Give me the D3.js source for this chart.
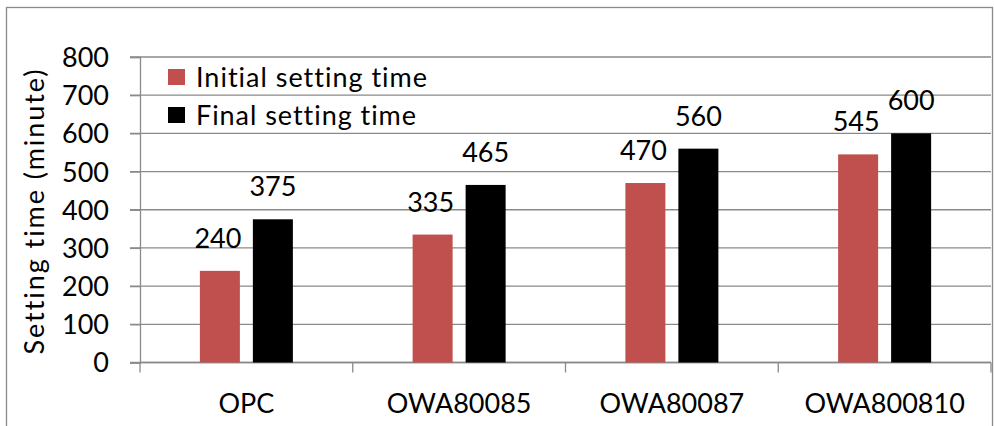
<!DOCTYPE html>
<html>
<head>
<meta charset="utf-8">
<script src="https://cdn.jsdelivr.net/npm/d3@7"></script>
<style>
  html, body { margin: 0; padding: 0; background: #fff; }
  svg { display: block; }
  text { font-family: Lato, "Open Sans", sans-serif; fill: #000; font-variant-ligatures: none; }
</style>
</head>
<body>
<svg id="chart" width="994" height="426"></svg>
<script>
// Setting times (minutes) for each mix
const categories = ["OPC", "OWA80085", "OWA80087", "OWA800810"];
const seriesNames = ["Initial setting time", "Final setting time"];
const initialSetting = [240, 335, 470, 545];
const finalSetting = [375, 465, 560, 600];
const yTicks = [0, 100, 200, 300, 400, 500, 600, 700, 800];
const seriesColors = ["#C0504D", "#000000"];

const svg = d3.select("#chart");
const W = 994, H = 426;
const plot = { left: 140, right: 991, top: 57, bottom: 362.5 };
const fontSize = 27;

// outer chart frame
svg.append("rect")
  .attr("x", 6.5).attr("y", 7.5)
  .attr("width", W - 8).attr("height", H)
  .attr("fill", "none").attr("stroke", "#8a8a8a").attr("stroke-width", 1.3);

const x = d3.scaleBand().domain(categories).range([plot.left, plot.right]).padding(0);
const y = d3.scaleLinear().domain([0, 800]).range([plot.bottom, plot.top]);
// two bars of ~40px with a ~13px gap, centred in each category
const xSeries = d3.scaleBand().domain(seriesNames).range([-46.5, 46.5]).paddingInner(13 / 53);

// horizontal gridlines
svg.append("g").selectAll("line").data(yTicks).join("line")
  .attr("x1", plot.left - 10).attr("x2", plot.right)
  .attr("y1", d => y(d)).attr("y2", d => y(d))
  .attr("stroke", "#8a8a8a").attr("stroke-width", 1.3);

// y axis
const yAxis = svg.append("g").attr("transform", `translate(${plot.left},0)`)
  .call(d3.axisLeft(y).tickValues(yTicks).tickSize(10).tickPadding(21).tickFormat(d3.format("d")));
yAxis.select(".domain").attr("stroke", "#8a8a8a").attr("stroke-width", 1.3);
yAxis.selectAll(".tick line").attr("stroke", "#8a8a8a").attr("stroke-width", 1.3);
yAxis.selectAll("text").attr("font-size", fontSize).attr("font-family", "Lato").attr("fill", "#000")
  .attr("dy", "0.35em");

// x axis with tick marks at category boundaries
const xAxis = svg.append("g").attr("transform", `translate(0,${plot.bottom})`);
xAxis.append("line").attr("x1", plot.left).attr("x2", plot.right)
  .attr("stroke", "#8a8a8a").attr("stroke-width", 1.3);
const bounds = categories.map(c => x(c)).concat([plot.right]);
xAxis.selectAll("line.tick").data(bounds).join("line").attr("class", "tick")
  .attr("x1", d => d).attr("x2", d => d).attr("y1", 0).attr("y2", 10)
  .attr("stroke", "#8a8a8a").attr("stroke-width", 1.3);
xAxis.selectAll("text").data(categories).join("text")
  .attr("x", d => x(d) + x.bandwidth() / 2).attr("y", 50.5)
  .attr("text-anchor", "middle").attr("font-size", fontSize)
  .text(d => d);

// bars and value labels
const rows = categories.map((c, i) => ({ cat: c, values: [initialSetting[i], finalSetting[i]] }));
const groups = svg.append("g").selectAll("g").data(rows).join("g")
  .attr("transform", d => `translate(${x(d.cat) + x.bandwidth() / 2},0)`);
groups.selectAll("rect").data(d => d.values.map((v, j) => ({ v, s: seriesNames[j], j }))).join("rect")
  .attr("x", d => xSeries(d.s)).attr("width", xSeries.bandwidth())
  .attr("y", d => y(d.v)).attr("height", d => y(0) - y(d.v))
  .attr("fill", d => seriesColors[d.j]);
groups.selectAll("text").data(d => d.values.map((v, j) => ({ v, s: seriesNames[j], j }))).join("text")
  .attr("x", d => xSeries(d.s) + xSeries.bandwidth() / 2 - (d.j === 0 ? 2 : 0))
  .attr("y", d => y(d.v) - 23)
  .attr("text-anchor", "middle").attr("font-size", fontSize)
  .text(d => d.v);

// y axis title
svg.append("text")
  .attr("transform", "translate(44,212) rotate(-90)")
  .attr("text-anchor", "middle").attr("font-size", fontSize)
  .attr("textLength", 285).attr("lengthAdjust", "spacing")
  .text("Setting time (minute)");

// legend
const legend = svg.append("g").attr("transform", "translate(168,69)");
const items = legend.selectAll("g").data(seriesNames).join("g")
  .attr("transform", (d, i) => `translate(0,${i * 38})`);
items.append("rect").attr("width", 17).attr("height", 16)
  .attr("fill", (d, i) => seriesColors[i]);
items.append("text").attr("x", 28).attr("y", 18).attr("font-size", fontSize)
  .attr("textLength", (d, i) => i === 0 ? 231 : 220).attr("lengthAdjust", "spacing")
  .text(d => d);
</script>
</body>
</html>
